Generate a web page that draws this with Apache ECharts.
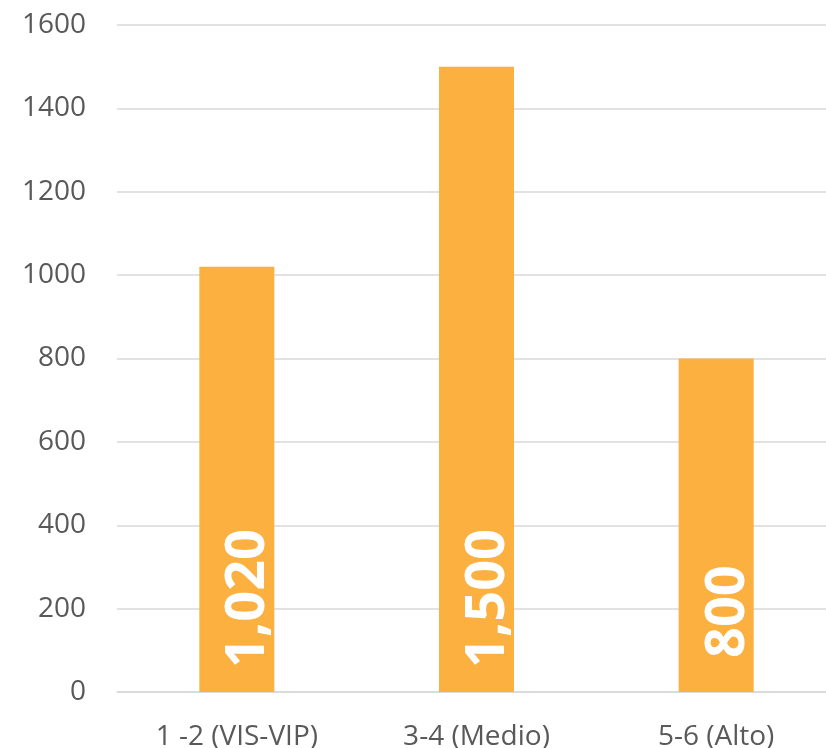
<!DOCTYPE html>
<html>
<head>
<meta charset="utf-8">
<script src="https://cdn.jsdelivr.net/npm/echarts@6/dist/echarts.min.js"></script>
<style>
html,body{margin:0;padding:0;background:#fff;}
#chart{width:826px;height:748px;}
</style>
</head>
<body>
<div id="chart"></div>
<script>
var categories = ['1 -2 (VIS-VIP)', '3-4 (Medio)', '5-6 (Alto)'];
var values = [1020, 1500, 800];
var yTicks = { min: 0, max: 1600, interval: 200 };

var labelDistances = [24, 24, 34];

var chart = echarts.init(document.getElementById('chart'));
chart.setOption({
  animation: false,
  grid: { left: 117, width: 719, top: 25, bottom: 56, containLabel: false, outerBoundsMode: 'none' },
  xAxis: {
    type: 'category',
    data: categories,
    axisLine: { show: true, lineStyle: { color: '#d9d9d9', width: 1.5 } },
    axisTick: { show: false },
    axisLabel: { color: '#595959', fontSize: 28, fontFamily: 'Open Sans', margin: 31 }
  },
  yAxis: {
    type: 'value',
    min: yTicks.min, max: yTicks.max, interval: yTicks.interval,
    axisLine: { show: false },
    axisTick: { show: false },
    splitLine: { lineStyle: { color: '#d9d9d9', width: 1.5 } },
    axisLabel: { color: '#595959', fontSize: 28, fontFamily: 'Open Sans', margin: 31,
      formatter: function (v) { return String(v); } }
  },
  series: [{
    type: 'bar',
    barWidth: '31.3%',
    data: values.map(function (v, i) {
      return { value: v, label: { distance: labelDistances[i] } };
    }),
    itemStyle: { color: '#FBB040' },
    label: {
      show: true,
      position: 'insideBottom',
      rotate: 90,
      align: 'left',
      verticalAlign: 'middle',
      offset: [0, 12],
      color: '#ffffff',
      fontSize: 54,
      fontWeight: 'bold',
      fontFamily: 'Open Sans',
      formatter: function (p) { return p.value.toLocaleString('en-US'); }
    }
  }]
});
</script>
</body>
</html>
